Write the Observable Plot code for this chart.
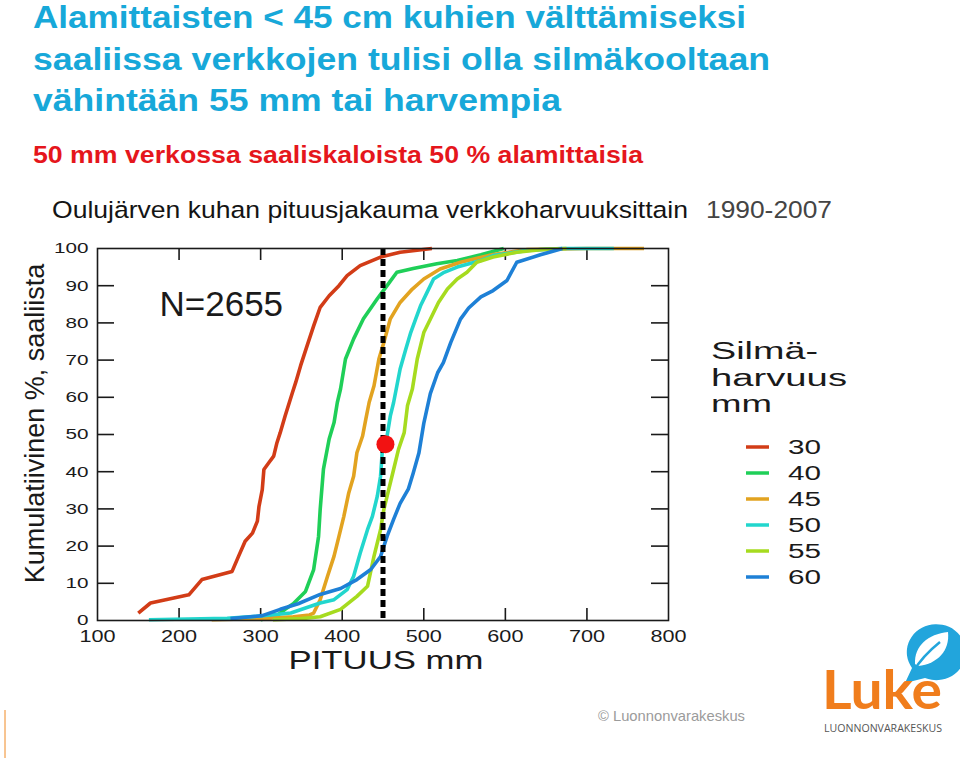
<!DOCTYPE html>
<html><head><meta charset="utf-8">
<script src="https://cdn.jsdelivr.net/npm/d3@7"></script>
<script src="https://cdn.jsdelivr.net/npm/@observablehq/plot@0.6"></script>
<style>
html,body{margin:0;padding:0;background:#fff;}
#page{position:relative;width:960px;height:758px;overflow:hidden;background:#fff;font-family:"Liberation Sans",Arial,sans-serif;}
#chart{position:absolute;left:0;top:225px;}
#overlay{position:absolute;left:0;top:0;pointer-events:none;}
</style></head>
<body><div id="page"><div id="chart"></div><svg id="overlay" width="960" height="758"></svg></div>
<script>
// ---------- texts ----------
const titleLines = ["Alamittaisten < 45 cm kuhien välttämiseksi", "saaliissa verkkojen tulisi olla silmäkooltaan", "vähintään 55 mm tai harvempia"];
const subtitle = "50 mm verkossa saaliskaloista 50 % alamittaisia";
const chartTitle = "Oulujärven kuhan pituusjakauma verkkoharvuuksittain";
const chartYears = "1990-2007";
const xTitle = "PITUUS mm";
const yTitle = "Kumulatiivinen %, saaliista";
const nLabel = "N=2655";
const legendTitle = ["Silmä-", "harvuus", "mm"];
const caption = "© Luonnonvarakeskus";

// ---------- scales / ticks ----------
const xTicks = [100, 200, 300, 400, 500, 600, 700, 800];
const yTicks = [0, 10, 20, 30, 40, 50, 60, 70, 80, 90, 100];
const innerX = [200, 300, 400, 500, 600, 700];
const innerY = [10, 20, 30, 40, 50, 60, 70, 80, 90];
const limitLength = [450];
const markerLen = [453];
const markerPct = [47.4];

// ---------- series ----------
const meshSizes = ["30", "40", "45", "50", "55", "60"];
const meshColors = ["#d23c17", "#1fcf58", "#e2a320", "#22d6cd", "#a6db1f", "#1e80d6"];

const len30 = [150,165,212,228,265,273,281,290,296,298,302,304,310,316,320,324,330,339,343,349,357,365,373,384,396,406,422,447,471,510];
const pct30 = [2,4.7,6.9,11,13.2,17.3,21.3,23.5,26.7,30.7,35.2,40.6,42.4,44.2,47.8,50.5,55,61.3,64,68.5,73.9,79.2,84.2,87.3,90,92.7,95.4,97.7,99,100];

const len40 = [300,318,330,340,355,365,371,373,377,384,390,394,398,404,414,426,443,455,467,487,516,541,570,598];
const pct40 = [0.2,1,3,4.5,7.8,13.7,22.6,29.9,40.7,48.8,53.2,58.6,62.3,70.3,75.7,81.1,86.5,90,93.6,94.6,95.9,96.8,98.3,100];

const len45 = [240,300,340,360,365,373,382,390,396,402,408,414,418,425,429,433,439,445,451,459,471,486,500,520,545,585,627,700,770];
const pct45 = [0.2,0.5,1,1.5,2,5.6,11.9,17.3,22.6,28,34.3,38.8,45.1,49.6,54.2,58.6,63.1,70.3,74.7,81.1,85.5,89.1,91.8,94.5,96.3,98.4,99.7,100,100];

const len50 = [163,259,300,337,373,390,406,414,422,431,437,443,447,449,455,459,463,467,471,478,484,490,496,504,512,525,541,570,585,627,668,733];
const pct50 = [0.2,0.6,1.2,2,4.7,5.6,8.3,11.9,18.1,24.4,28,33.4,38.8,45.1,49.6,55,58.6,63.1,67.6,73,77.4,81,84.6,88.2,91.8,93.6,95,96.8,98.1,99.5,100,100];

const len55 = [315,350,373,398,418,431,439,447,451,457,463,469,476,480,486,492,500,508,518,529,541,553,565,585,614,643,675];
const pct55 = [0.2,0.5,1,3,6.5,9.2,17.3,24.4,29.8,35.2,40.6,46,50.5,57.7,62.2,70.3,77.4,81,85.5,89.1,91.8,93.6,96.3,97.7,99,99.7,100];

const len60 = [263,302,324,346,373,398,418,435,447,455,463,471,481,487,494,500,508,517,524,533,545,555,570,585,602,614,643,670];
const pct60 = [0.5,1.3,3,4.5,7,8.6,11,13.7,17.2,22.6,27.2,31.5,35.3,39.6,45,53,61,66.6,69.3,74.7,81,84,87,88.7,91.4,96.3,98.3,100];

const seriesLen = [len30, len40, len45, len50, len55, len60];
const seriesPct = [pct30, pct40, pct45, pct50, pct55, pct60];
const rows = meshSizes.flatMap((m, i) => seriesLen[i].map((v, j) => ({mesh: m, len: v, pct: seriesPct[i][j]})));
const marker = markerLen.map((v, i) => ({len: v, pct: markerPct[i]}));

// ---------- plot ----------
const W = 960, H = 480, mt = 23, mb = 85, ml = 97, mr = 292;
const frameW = W - ml - mr, frameH = H - mt - mb;
const ink = "#1a1a1a";
const font = "'Liberation Sans', Arial, Helvetica, sans-serif";

const plot = Plot.plot({
  width: W, height: H,
  marginTop: mt, marginBottom: mb, marginLeft: ml, marginRight: mr,
  style: {fontFamily: font, color: ink, background: "transparent", overflow: "visible"},
  x: {domain: [100, 800]},
  y: {domain: [0, 100]},
  color: {domain: meshSizes, range: meshColors},
  marks: [
    Plot.ruleX(innerX, {insetTop: frameH - 12, stroke: ink, strokeWidth: 1.6}),
    Plot.ruleX(innerX, {insetBottom: frameH - 12, stroke: ink, strokeWidth: 1.6}),
    Plot.ruleY(innerY, {insetRight: frameW - 17, stroke: ink, strokeWidth: 1.6}),
    Plot.ruleY(innerY, {insetLeft: frameW - 17, stroke: ink, strokeWidth: 1.6}),
    Plot.line(rows, {x: "len", y: "pct", z: "mesh", stroke: "mesh", strokeWidth: 3.6, strokeLinejoin: "round", strokeLinecap: "butt"}),
    Plot.ruleX(limitLength, {stroke: "#000", strokeWidth: 5, strokeDasharray: "7,4"}),
    Plot.dot(marker, {x: "len", y: "pct", r: 9, fill: "#f21212", stroke: "none"}),
    Plot.frame({stroke: ink, strokeWidth: 1.6}),
    Plot.axisX({ticks: xTicks, tickSize: 0, tickPadding: 9.5, fontSize: 16.5, label: null, fill: ink}),
    Plot.axisY({ticks: yTicks, tickSize: 0, tickPadding: 9, fontSize: 15, label: null, fill: ink}),
    Plot.text([xTitle], {text: d => d, frameAnchor: "bottom", textAnchor: "middle", lineAnchor: "middle", dy: 40, dx: 3, fontSize: 25, fill: ink}),
    Plot.text([yTitle], {text: d => d, frameAnchor: "left", textAnchor: "middle", lineAnchor: "middle", rotate: -90, dx: -62, dy: -11, fontSize: 27, fill: ink}),
    Plot.text([nLabel], {text: d => d, frameAnchor: "top-left", textAnchor: "start", lineAnchor: "middle", dx: 62, dy: 56, fontSize: 35, fill: ink})
  ]
});
document.getElementById("chart").append(plot);

// widen the chart's tick labels like the (stretched) original
plot.querySelectorAll("text").forEach(t => {
  const g = (t.parentNode.getAttribute("aria-label") || "");
  let f = null;
  if (g.includes("x-axis")) f = 1.31;
  else if (g.includes("y-axis")) f = 1.38;
  if (t.textContent === xTitle) f = 1.39;
  if (f) {
    const L = t.getComputedTextLength();
    t.setAttribute("textLength", (L * f).toFixed(1));
    t.setAttribute("lengthAdjust", "spacingAndGlyphs");
  }
});

// ---------- overlay: titles, legend, caption, logo ----------
const ov = d3.select("#overlay");
function txt(str, x, y, size, opts = {}) {
  const t = ov.append("text").attr("x", x).attr("y", y)
    .attr("font-family", opts.family || font)
    .attr("font-size", size)
    .attr("font-weight", opts.weight || "normal")
    .attr("fill", opts.fill || ink)
    .text(str);
  if (opts.width) t.attr("textLength", opts.width).attr("lengthAdjust", "spacingAndGlyphs");
  return t;
}

const titleBase = [28, 70, 111];
const titleWidths = [713, 737, 528];
titleLines.forEach((s, i) => txt(s, 33, titleBase[i], 31, {weight: "bold", fill: "#17a8d9", width: titleWidths[i]}));
txt(subtitle, 33, 163, 23, {weight: "bold", fill: "#e5161c", width: 610});
txt(chartTitle, 52, 218, 24.5, {fill: "#141414", width: 636});
txt(chartYears, 706, 218, 24.5, {fill: "#444", width: 126});

// legend
const legTitleBase = [359, 386, 412];
const legTitleW = [107, 136, 61];
legendTitle.forEach((s, i) => txt(s, 711, legTitleBase[i], 23, {width: legTitleW[i]}));
meshSizes.forEach((m, i) => {
  const cy = 447 + i * 26;
  ov.append("line").attr("x1", 746).attr("x2", 769).attr("y1", cy).attr("y2", cy)
    .attr("stroke", meshColors[i]).attr("stroke-width", 3.5);
  txt(m, 788, cy + 7, 19.5, {width: 33});
});

// caption
txt(caption, 598, 721, 15, {fill: "#9b9b9b", width: 147});

// slide decoration
ov.append("line").attr("x1", 5).attr("x2", 5).attr("y1", 710).attr("y2", 758).attr("stroke", "#f08a24").attr("stroke-width", 1);

// Luke logo
const lg = ov.append("g");
lg.append("path")
  .attr("d", "M905,683 L912,668 A29.5,28 0 1 1 925,678 Z")
  .attr("fill", "#22a5dc");
lg.append("path")
  .attr("d", "M915,664 C914,646 928,634 948,632 C950,650 938,664 918,666 Z")
  .attr("fill", "#fff");
lg.append("path")
  .attr("d", "M913,672 C920,660 930,650 940,642")
  .attr("fill", "none").attr("stroke", "#22a5dc").attr("stroke-width", 2.5);
txt("Luke", 822, 709, 54, {family: "Lato, 'Open Sans', sans-serif", weight: "bold", fill: "#f07d1c", width: 120});
txt("LUONNONVARAKESKUS", 824, 732, 10, {family: "'Open Sans', Lato, sans-serif", fill: "#555", width: 118});
</script>
</body></html>
